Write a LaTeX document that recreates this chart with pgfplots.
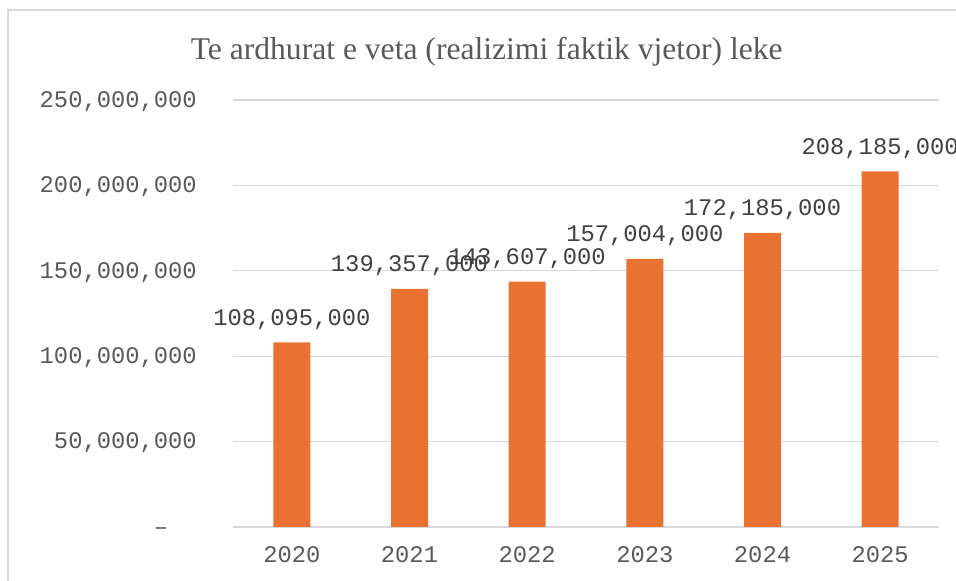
\documentclass[border=0pt]{standalone}
\usepackage{fontspec}
\setmainfont{Liberation Serif}
\newfontfamily\monofont{Liberation Mono}
\usepackage{pgfplots}
\pgfplotsset{compat=1.18}
\definecolor{barorange}{HTML}{E97132}
\definecolor{gridgray}{HTML}{D9D9D9}
\definecolor{ticktext}{HTML}{595959}
\definecolor{labtext}{HTML}{404040}
\begin{document}
\begin{tikzpicture}[x=1pt,y=1pt]
\useasboundingbox (0,0) rectangle (956,581);
\clip (0,0) rectangle (956,581);
\draw[gridgray, line width=1.3pt] (8,-20) -- (8,571) -- (990,571);
\begin{axis}[
  at={(233pt,54pt)}, anchor=south west,
  scale only axis, width=706pt, height=427pt,
  xmin=-0.5, xmax=5.5, ymin=0, ymax=250000000,
  xtick={0,1,2,3,4,5},
  xticklabels={2020,2021,2022,2023,2024,2025},
  ytick={0,50000000,100000000,150000000,200000000,250000000},
  yticklabels={{\textendash\phantom{00}},{50,000,000},{100,000,000},{150,000,000},{200,000,000},{250,000,000}},
  scaled y ticks=false,
  axis line style={draw=none},
  major tick length=0pt,
  ymajorgrids, grid style={gridgray, line width=1.3pt},
  tick label style={font=\monofont\fontsize{23.8}{28}\selectfont, text=ticktext, inner sep=0pt},
  yticklabel style={anchor=base east, xshift=-36pt, yshift=-7.25pt},
  xticklabel style={anchor=base, yshift=-35.5pt},
  every axis title shift=0pt,
  title={Te ardhurat e veta (realizimi faktik vjetor) leke},
  title style={at={(0.3593,1.0937)}, anchor=base, inner sep=0pt, font=\fontsize{31.6}{38}\selectfont, text=ticktext},
  clip=false,
]
\addplot[ybar, bar width=37pt, fill=barorange, draw=none,
  point meta=explicit symbolic,
  nodes near coords,
  nodes near coords style={font=\monofont\fontsize{23.8}{28}\selectfont, text=labtext, anchor=base, inner sep=0pt, yshift=17pt},
] table[x=x, y=y, meta=lab] {
x y lab
0 108095000 108,095,000
1 139357000 139,357,000
2 143607000 143,607,000
3 157004000 157,004,000
4 172185000 172,185,000
5 208185000 208,185,000
};
\end{axis}
\end{tikzpicture}
\end{document}
